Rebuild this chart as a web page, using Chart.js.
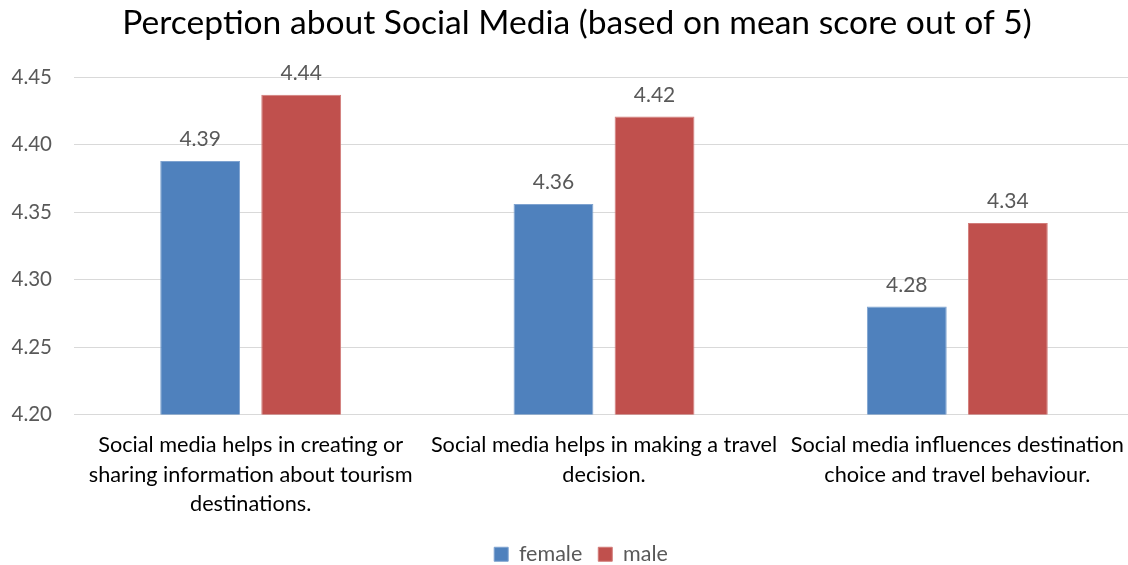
<!DOCTYPE html>
<html>
<head>
<meta charset="utf-8">
<script src="https://cdn.jsdelivr.net/npm/chart.js@4/dist/chart.umd.min.js"></script>
<style>
html,body{margin:0;padding:0;background:#fff;overflow:hidden;}
#wrap{position:relative;width:1154px;height:565px;}
</style>
</head>
<body>
<div id="wrap"><canvas id="c"></canvas></div>
<script>
const categories = [
  ["Social media helps in creating or", "sharing information about tourism", "destinations."],
  ["Social media helps in making a travel", "decision."],
  ["Social media influences destination", "choice and travel behaviour."]
];
const femaleValues = [4.388, 4.356, 4.280];
const maleValues = [4.437, 4.421, 4.342];
const yTicks = [4.20, 4.25, 4.30, 4.35, 4.40, 4.45];
const seriesNames = ["female", "male"];

const FONT = "Lato, 'Open Sans', sans-serif";

const dataLabels = {
  id: 'dataLabels',
  afterDatasetsDraw(chart) {
    const ctx = chart.ctx;
    ctx.save();
    ctx.font = "21px " + FONT;
    ctx.fillStyle = "#595959";
    ctx.textAlign = "center";
    ctx.textBaseline = "bottom";
    chart.data.datasets.forEach((ds, i) => {
      const meta = chart.getDatasetMeta(i);
      meta.data.forEach((el, j) => {
        ctx.fillText(Number(ds.data[j]).toFixed(2), el.x, el.y - 11);
      });
    });
    ctx.restore();
  }
};

// shift the centring boxes of title and legend to match the reference
const boxShift = {
  id: 'boxShift',
  afterLayout(chart) {
    if (chart.titleBlock) { chart.titleBlock.left += 20; }
    if (chart.legend) { chart.legend.left += 28; }
  }
};

new Chart(document.getElementById('c'), {
  type: 'bar',
  data: {
    labels: categories,
    datasets: [
      { label: seriesNames[0], data: femaleValues, backgroundColor: '#4F81BD', borderColor: '#7FA3D0', borderWidth: 1, barPercentage: 0.79, categoryPercentage: 0.572 },
      { label: seriesNames[1], data: maleValues, backgroundColor: '#C0504D', borderColor: '#D27C7A', borderWidth: 1, barPercentage: 0.79, categoryPercentage: 0.572 }
    ]
  },
  options: {
    responsive: true,
    maintainAspectRatio: false,
    animation: false,
    layout: { padding: { left: 0, right: 20, top: 0, bottom: -10 } },
    plugins: {
      title: {
        display: true,
        text: 'Perception about Social Media (based on mean score out of 5)',
        color: '#000',
        font: { family: FONT, size: 33.6, weight: 'normal' },
        padding: { top: 3, bottom: 34 }
      },
      legend: {
        position: 'bottom',
        labels: {
          color: '#595959',
          font: { family: FONT, size: 21.5 },
          boxWidth: 14, boxHeight: 14,
          padding: 16
        }
      },
      tooltip: { enabled: false }
    },
    scales: {
      x: {
        grid: { display: false, drawTicks: false },
        border: { display: true, color: '#D9D9D9', width: 1 },
        ticks: { color: '#000', font: { family: FONT, size: 21.7, lineHeight: 1.36 }, padding: 16, maxRotation: 0, autoSkip: false },
        afterFit(scale) { scale.height = 113; }
      },
      y: {
        min: 4.20, max: 4.45,
        afterBuildTicks(scale) { scale.ticks = yTicks.map(v => ({ value: v })); },
        grid: { color: '#D9D9D9', lineWidth: 1, drawTicks: false },
        border: { display: false },
        ticks: { color: '#595959', font: { family: FONT, size: 20.5 }, padding: 22, callback: v => Number(v).toFixed(2) },
        afterFit(scale) { scale.width = 74; }
      }
    }
  },
  plugins: [dataLabels, boxShift]
});
</script>
</body>
</html>
